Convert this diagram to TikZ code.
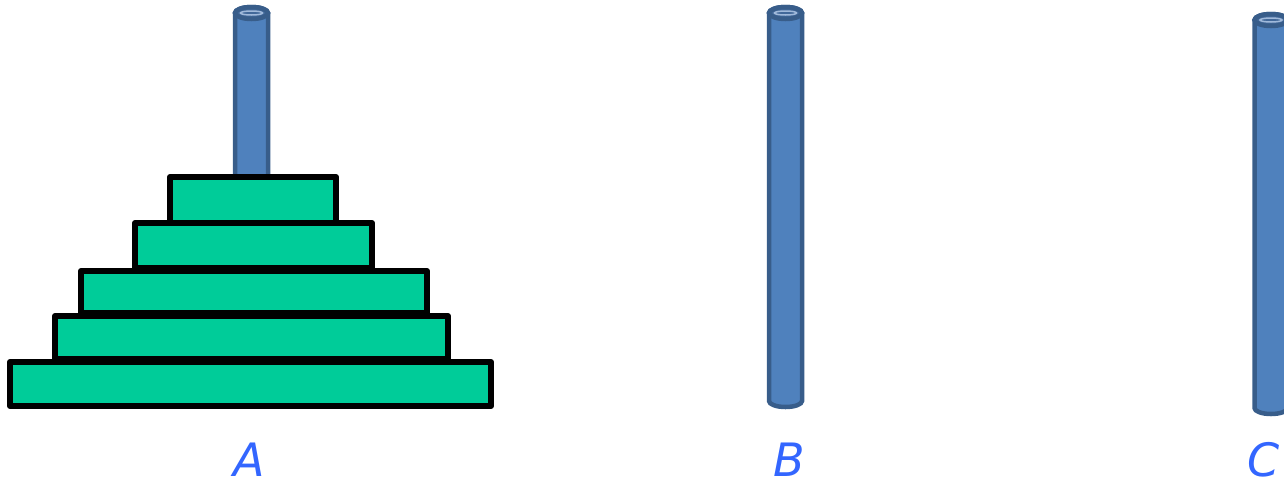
\documentclass[tikz,border=0pt]{standalone}
\usepackage{fontspec}
\setmainfont{DejaVu Sans}
\definecolor{diskfill}{RGB}{0,204,153}
\definecolor{pegfill}{RGB}{79,129,189}
\definecolor{pegline}{RGB}{56,93,138}
\definecolor{pegtop}{RGB}{66,104,153}
\definecolor{peghi}{RGB}{160,185,218}
\definecolor{labelblue}{RGB}{51,102,255}
\tikzset{
  disk/.style={draw=black, fill=diskfill, line width=6pt, line join=round},
  peglabel/.style={text=labelblue, font=\fontsize{46}{46}\selectfont\itshape, inner sep=0pt, anchor=base},
}
% \drawpeg{cx}{top}{bottom}
\newcommand{\drawpeg}[3]{%
  \pgfmathsetmacro{\pl}{#1-16.5}%
  \pgfmathsetmacro{\pr}{#1+16.5}%
  \pgfmathsetmacro{\pt}{#2+8}%
  \pgfmathsetmacro{\pb}{#3-8}%
  \draw[pegline, fill=pegfill, line width=4.5pt]
    (\pl,\pt) -- (\pl,\pb) arc[start angle=180, end angle=360, x radius=16.5, y radius=-6] -- (\pr,\pt)
    arc[start angle=0, end angle=180, x radius=16.5, y radius=-6] -- cycle;
  \draw[pegline, fill=pegtop, line width=4.5pt] (#1,\pt) ellipse[x radius=16.5, y radius=6];
  \draw[peghi, line width=1.5pt] (#1,\pt) ellipse[x radius=11, y radius=2];
}
\begin{document}
\begin{tikzpicture}[x=1pt, y=-1pt]
\useasboundingbox (0,0) rectangle (1284,488);
% pegs
\drawpeg{251.5}{5}{230}
\drawpeg{785.5}{5}{409}
\drawpeg{1271}{12}{416}
% disks (bottom to top)
\draw[disk] (10,362) rectangle (491,406);
\draw[disk] (55,316) rectangle (448,359);
\draw[disk] (81,271) rectangle (427,313);
\draw[disk] (135,223) rectangle (372,268);
\draw[disk] (170,177) rectangle (336,223);
% labels
\node[peglabel] (la) at (249,476) {A};
\node[peglabel] (lb) at (789,476) {B};
\node[peglabel] (lc) at (1264,476) {C};
\end{tikzpicture}
\end{document}
